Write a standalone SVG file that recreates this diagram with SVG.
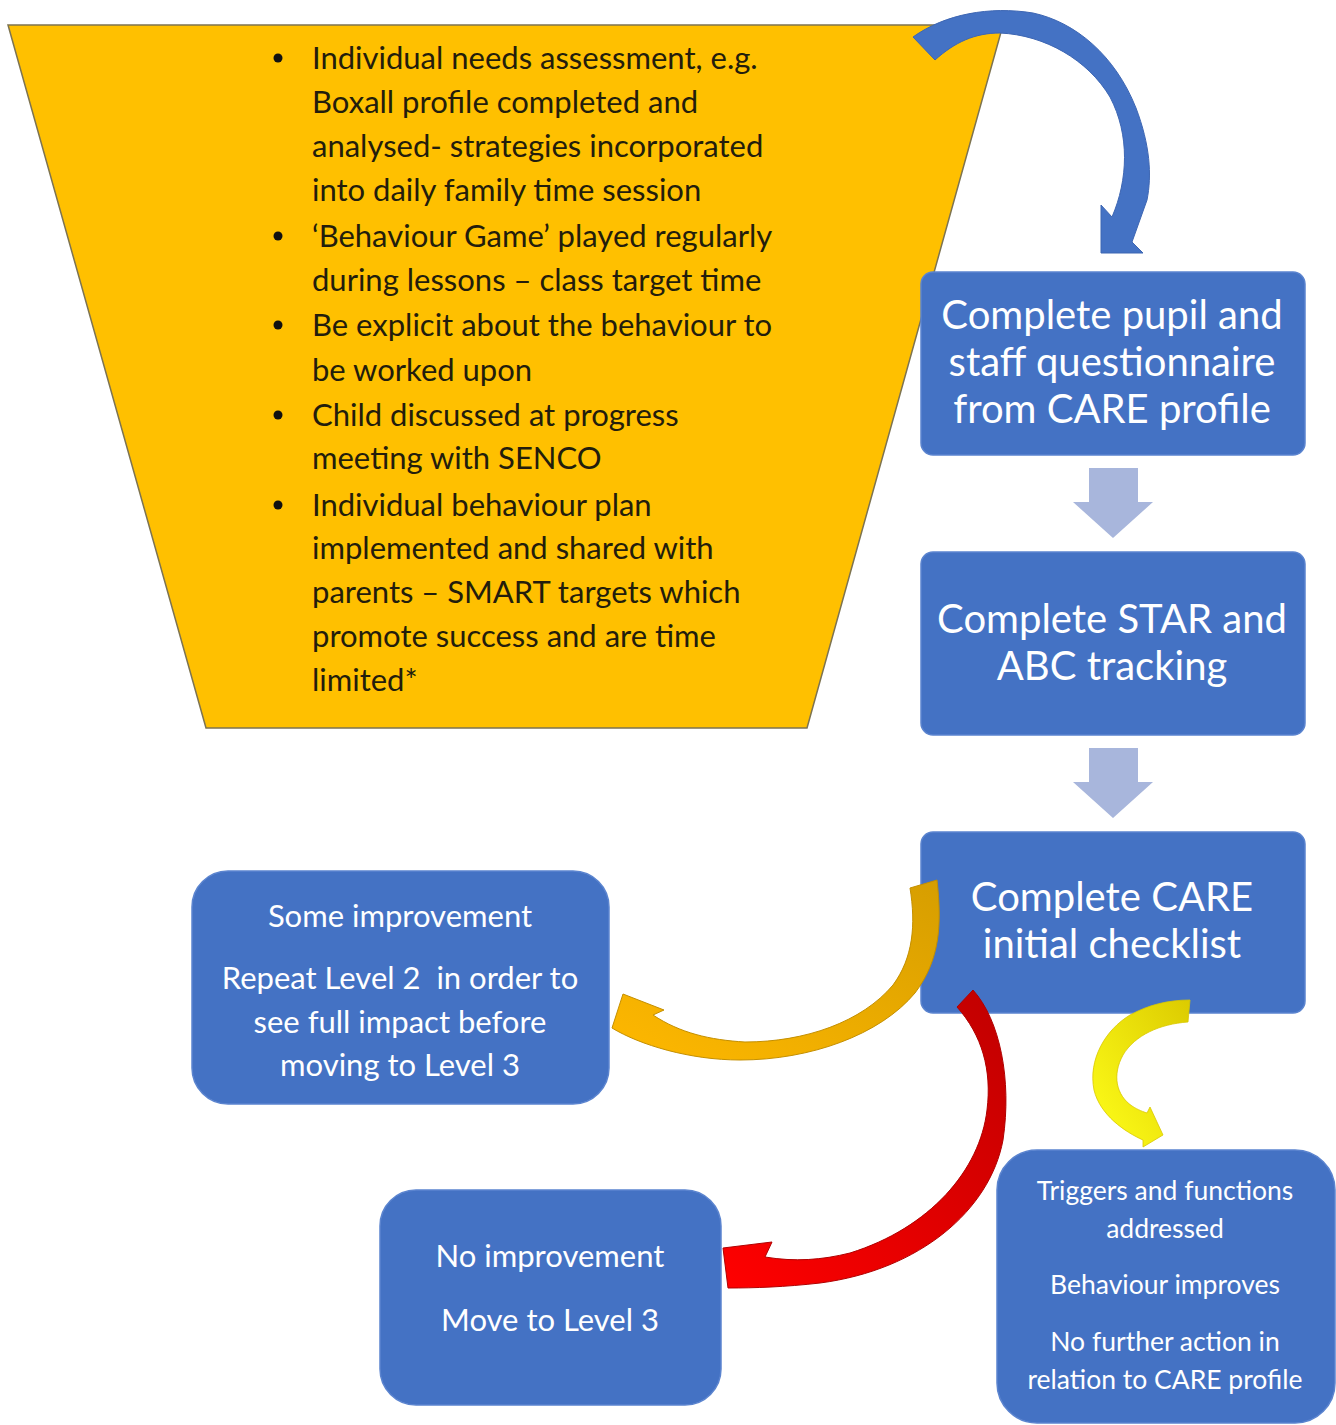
<svg xmlns="http://www.w3.org/2000/svg" width="1336" height="1425" viewBox="0 0 1336 1425">
<defs>
<style>
.t{font-family:Lato,"Open Sans","Liberation Sans",sans-serif;fill:#231d0c;font-size:31px}
.w{font-family:Lato,"Open Sans","Liberation Sans",sans-serif;fill:#ffffff;text-anchor:middle}
.box{fill:#4472C4;stroke:#5b84cf;stroke-width:1.5}
.down{fill:#A8B6DC}
</style>
<linearGradient id="gOr" x1="1" y1="0" x2="0" y2="1">
<stop offset="0" stop-color="#D69E00"/><stop offset="1" stop-color="#FFB800"/>
</linearGradient>
<linearGradient id="gRed" x1="1" y1="0" x2="0" y2="1">
<stop offset="0" stop-color="#C00000"/><stop offset="1" stop-color="#FF0000"/>
</linearGradient>
<linearGradient id="gYel" x1="1" y1="0" x2="0" y2="1">
<stop offset="0" stop-color="#DCCB00"/><stop offset="1" stop-color="#FFFF1A"/>
</linearGradient>
</defs>
<rect width="1336" height="1425" fill="#ffffff"/>

<g id="funnel">
<polygon points="8,25 1003,25 807,728 206,728" fill="#FFC000" stroke="#7d7350" stroke-width="1.5"/>
<g class="t">
<circle cx="278" cy="58" r="4.5" fill="#111"/>
<text x="312" y="69">Individual needs assessment, e.g.</text>
<text x="312" y="113">Boxall profile completed and</text>
<text x="312" y="157">analysed- strategies incorporated</text>
<text x="312" y="201">into daily family time session</text>
<circle cx="278" cy="236" r="4.5" fill="#111"/>
<text x="312" y="247">‘Behaviour Game’ played regularly</text>
<text x="312" y="291">during lessons – class target time</text>
<circle cx="278" cy="325" r="4.5" fill="#111"/>
<text x="312" y="336">Be explicit about the behaviour to</text>
<text x="312" y="381">be worked upon</text>
<circle cx="278" cy="415" r="4.5" fill="#111"/>
<text x="312" y="426">Child discussed at progress</text>
<text x="312" y="469">meeting with SENCO</text>
<circle cx="278" cy="505" r="4.5" fill="#111"/>
<text x="312" y="516">Individual behaviour plan</text>
<text x="312" y="559">implemented and shared with</text>
<text x="312" y="603">parents – SMART targets which</text>
<text x="312" y="647">promote success and are time</text>
<text x="312" y="691">limited*</text>
</g>
</g>

<g id="box-questionnaire">
<rect class="box" x="921" y="272" width="384" height="183" rx="12"/>
<text class="w" x="1112" y="329" font-size="40">Complete pupil and</text>
<text class="w" x="1112" y="376" font-size="40">staff questionnaire</text>
<text class="w" x="1112" y="423" font-size="40">from CARE profile</text>
</g>

<g id="box-star">
<rect class="box" x="921" y="552" width="384" height="183" rx="12"/>
<text class="w" x="1112" y="633" font-size="40">Complete STAR and</text>
<text class="w" x="1112" y="680" font-size="40">ABC tracking</text>
</g>

<g id="box-checklist">
<rect class="box" x="921" y="832" width="384" height="181" rx="12"/>
<text class="w" x="1112" y="911" font-size="40">Complete CARE</text>
<text class="w" x="1112" y="958" font-size="40">initial checklist</text>
</g>

<g id="box-some">
<rect class="box" x="192" y="871" width="417" height="233" rx="36"/>
<text class="w" x="400" y="927" font-size="31">Some improvement</text>
<text class="w" x="400" y="989" font-size="31" xml:space="preserve">Repeat Level 2  in order to</text>
<text class="w" x="400" y="1033" font-size="31">see full impact before</text>
<text class="w" x="400" y="1076" font-size="31">moving to Level 3</text>
</g>

<g id="box-none">
<rect class="box" x="380" y="1190" width="341" height="215" rx="36"/>
<text class="w" x="550" y="1267" font-size="31">No improvement</text>
<text class="w" x="550" y="1331" font-size="31">Move to Level 3</text>
</g>

<g id="box-triggers">
<rect class="box" x="997" y="1150" width="338" height="273" rx="40"/>
<text class="w" x="1165" y="1200" font-size="26.5">Triggers and functions</text>
<text class="w" x="1165" y="1238" font-size="26.5">addressed</text>
<text class="w" x="1165" y="1294" font-size="26.5">Behaviour improves</text>
<text class="w" x="1165" y="1351" font-size="26.5">No further action in</text>
<text class="w" x="1165" y="1389" font-size="26.5">relation to CARE profile</text>
</g>

<g id="connectors">
<!-- blue curved arrow -->
<path d="M913,37 C945,14 990,6 1033,13 C1075,22 1115,55 1136,108 C1150,145 1152,175 1147,200 L1132,242 L1143,253 L1101,253 L1101,205 L1112,217 C1128,180 1130,135 1110,97 C1088,60 1045,35 1000,33 C975,33 955,42 935,60 Z" fill="#4472C4" stroke="#3d66b3" stroke-width="1"/>
<!-- down arrows -->
<polygon class="down" points="1089,468 1138,468 1138,502 1153,502 1113,538 1073,502 1089,502"/>
<polygon class="down" points="1089,748 1138,748 1138,782 1153,782 1113,818 1073,782 1089,782"/>
<!-- orange curved arrow -->
<path d="M910,888 L937,880 C942,925 940,960 915,993 C880,1035 810,1060 740,1060 C690,1060 640,1045 612,1028 L623,994 L664,1010 L653,1015 C680,1033 710,1040 745,1042 C805,1042 862,1022 893,985 C913,958 916,925 910,888 Z" fill="url(#gOr)" stroke="#c48f00" stroke-width="1"/>
<!-- red curved arrow -->
<path d="M957,1007 L973,990 C1000,1020 1012,1080 1003,1140 C990,1210 920,1270 820,1283 C785,1287 755,1288 728,1288 L723,1248 L772,1242 L765,1257 C795,1262 822,1260 850,1253 C930,1228 980,1170 987,1110 C992,1070 982,1035 957,1007 Z" fill="url(#gRed)" stroke="#b00000" stroke-width="1"/>
<!-- yellow curved arrow -->
<path d="M1190,1000 L1188,1022 C1160,1024 1135,1035 1123,1055 C1112,1075 1116,1095 1132,1106 C1138,1110 1144,1112 1147,1113 L1150,1107 L1163,1135 L1143,1147 L1143,1140 C1125,1132 1100,1115 1094,1090 C1088,1060 1105,1030 1130,1015 C1148,1005 1168,1000 1190,1000 Z" fill="url(#gYel)" stroke="#d9c800" stroke-width="0.8"/>
</g>
</svg>
